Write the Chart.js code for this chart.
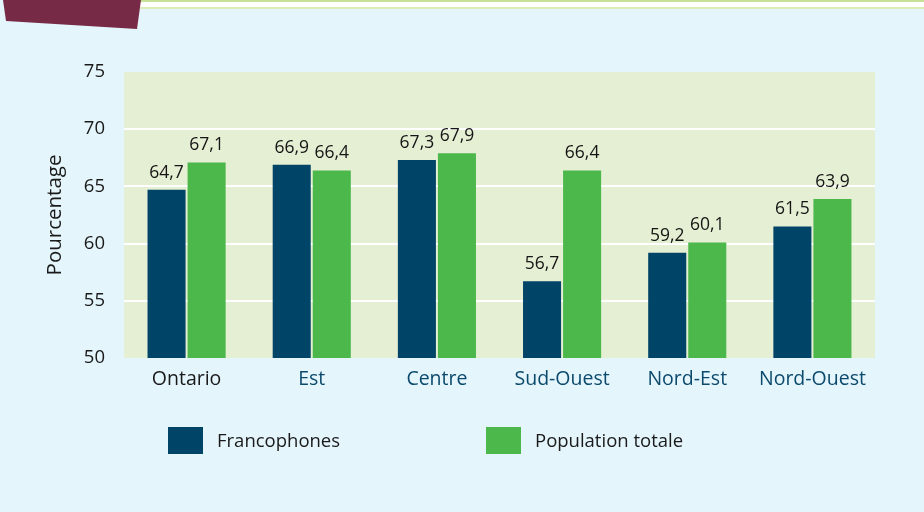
<!DOCTYPE html>
<html><head><meta charset="utf-8">
<script src="https://cdn.jsdelivr.net/npm/chart.js@4/dist/chart.umd.min.js"></script>
<style>
html,body{margin:0;padding:0;background:#e4f5fc;}
#wrap{width:924px;height:512px;position:relative;}
</style></head>
<body><div id="wrap"><canvas id="c" width="924" height="512"></canvas></div>
<script>
const categories = ["Ontario","Est","Centre","Sud-Ouest","Nord-Est","Nord-Ouest"];
const francophones = [64.7,66.9,67.3,56.7,59.2,61.5];
const populationTotale = [67.1,66.4,67.9,66.4,60.1,63.9];
const seriesNames = ["Francophones","Population totale"];
const yTicks = [50,55,60,65,70,75];

const FONT = "'Open Sans', sans-serif";
const COLORS = ["#004468","#4cb84b"];

const decor = {
  id:'decor',
  beforeDraw(chart){
    const ctx = chart.ctx, a = chart.chartArea;
    ctx.save();
    ctx.fillStyle = '#e4f5fc';
    ctx.fillRect(0,0,chart.width,chart.height);
    ctx.fillStyle = '#c8df98'; ctx.fillRect(140,0,chart.width-140,2);
    ctx.fillStyle = '#ffffff'; ctx.fillRect(140,2,chart.width-140,5);
    ctx.fillStyle = '#dcecb9'; ctx.fillRect(140,7,chart.width-140,2);
    ctx.fillStyle = '#772a45';
    ctx.beginPath(); ctx.moveTo(3,0); ctx.lineTo(141,0); ctx.lineTo(137,29); ctx.lineTo(6,21); ctx.closePath(); ctx.fill();
    ctx.fillStyle = '#e5efd3';
    ctx.fillRect(a.left,a.top,a.right-a.left,a.bottom-a.top);
    ctx.restore();
  },
  afterDatasetsDraw(chart){
    const ctx = chart.ctx;
    ctx.save();
    ctx.font = "17.5px " + FONT;
    ctx.fillStyle = '#151515';
    ctx.textAlign = 'center';
    ctx.textBaseline = 'alphabetic';
    chart.data.datasets.forEach((ds,i)=>{
      chart.getDatasetMeta(i).data.forEach((bar,j)=>{
        ctx.fillText(ds.data[j].toFixed(1).replace('.',','), bar.x, bar.y - 12);
      });
    });
    const lx = [168,486];
    chart.data.datasets.forEach((ds,i)=>{
      ctx.fillStyle = ds.backgroundColor;
      ctx.fillRect(lx[i],427,35,27);
      ctx.fillStyle = '#1a1a1a';
      ctx.font = "18.5px " + FONT;
      ctx.textAlign = 'left';
      ctx.textBaseline = 'middle';
      ctx.fillText(ds.label, lx[i]+49, 442);
    });
    ctx.restore();
  }
};

new Chart(document.getElementById('c'),{
  type:'bar',
  data:{
    labels:categories,
    datasets:[
      {label:seriesNames[0],data:francophones,backgroundColor:COLORS[0]},
      {label:seriesNames[1],data:populationTotale,backgroundColor:COLORS[1]}
    ]
  },
  options:{
    responsive:false,
    animation:false,
    devicePixelRatio:1,
    layout:{padding:{left:0,right:49,top:72,bottom:0}},
    plugins:{legend:{display:false},tooltip:{enabled:false}},
    datasets:{bar:{categoryPercentage:0.64,barPercentage:0.95}},
    scales:{
      x:{
        grid:{display:false},
        border:{display:false},
        ticks:{
          padding:2,
          font:{family:FONT,size:19.5},
          color:(c)=> c.index===0 ? '#1a1a1a' : '#0b4a6c'
        },
        afterFit(s){ s.height = 154; }
      },
      y:{
        min:50,max:75,
        afterBuildTicks(s){ s.ticks = yTicks.map(v=>({value:v})); },
        grid:{
          drawTicks:false,
          lineWidth:2,
          color:(c)=> (c.tick && (c.tick.value===50||c.tick.value===75)) ? 'rgba(0,0,0,0)' : '#ffffff'
        },
        border:{display:false},
        ticks:{padding:19,font:{family:FONT,size:18.5},color:'#1a1a1a'},
        title:{display:true,text:'Pourcentage',font:{family:FONT,size:20.5},color:'#1a1a1a',padding:{top:43,bottom:0}},
        afterFit(s){ s.width = 124; }
      }
    }
  },
  plugins:[decor]
});
</script></body></html>
